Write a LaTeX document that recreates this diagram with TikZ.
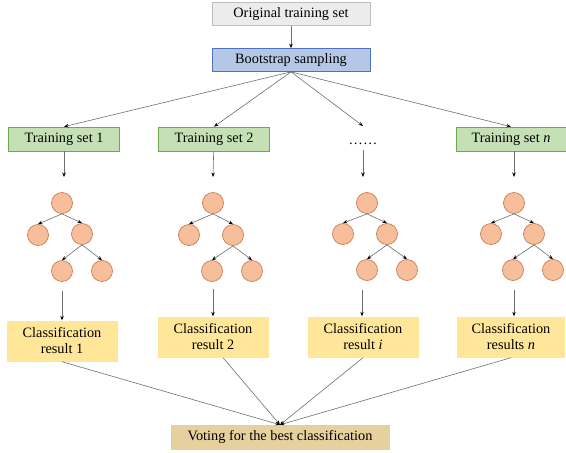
\documentclass[tikz,border=0pt]{standalone}
\usepackage{fontspec}
\setmainfont{Liberation Serif}
\usetikzlibrary{arrows.meta}

\definecolor{origfill}{RGB}{236,236,236}
\definecolor{origline}{RGB}{190,190,190}
\definecolor{bootfill}{RGB}{180,199,231}
\definecolor{bootline}{RGB}{79,114,190}
\definecolor{trainfill}{RGB}{197,224,180}
\definecolor{trainline}{RGB}{112,168,78}
\definecolor{treefill}{RGB}{246,190,155}
\definecolor{treeline}{RGB}{205,125,80}
\definecolor{resfill}{RGB}{255,230,153}
\definecolor{votefill}{RGB}{230,208,158}
\definecolor{linegray}{RGB}{110,110,110}

\begin{document}
\begin{tikzpicture}[x=1pt,y=-1pt,font=\fontsize{14.3}{16}\selectfont,
    >={Stealth[length=4.5pt,width=3.5pt,black]}]

      \useasboundingbox (0,0) rectangle (566,453);

      \begin{scope}[every node/.style={draw,minimum height=23pt,inner sep=0pt,line width=0.7pt}]
        \node[fill=origfill,draw=origline,minimum width=158pt] (orig) at (291,14) {Original training set};
        \node[fill=bootfill,draw=bootline,minimum width=158pt] (boot) at (291,60) {Bootstrap sampling};
        \node[fill=trainfill,draw=trainline,minimum width=111pt,minimum height=24pt] (t1) at (64,139) {Training set 1};
        \node[fill=trainfill,draw=trainline,minimum width=111pt,minimum height=24pt] (t2) at (214,139) {Training set 2};
        \node[fill=trainfill,draw=trainline,minimum width=110pt,minimum height=24pt] (tn) at (511,139) {Training set \textit{n}};
        \node[draw=none,minimum height=0pt,anchor=base] (tdots) at (363,144) {……};
      \end{scope}

      \begin{scope}[every node/.style={circle,draw=treeline,fill=treefill,line width=0.7pt,minimum size=21pt,inner sep=0pt}]
        \node (r1) at (62,203) {};
        \node (a1) at (38,235) {};
        \node (b1) at (82,234) {};
        \node (c1) at (62,271) {};
        \node (d1) at (102,271) {};
        \node (r2) at (213,203) {};
        \node (a2) at (189,235) {};
        \node (b2) at (233,235) {};
        \node (c2) at (212,271) {};
        \node (d2) at (252,271) {};
        \node (r3) at (367,203) {};
        \node (a3) at (343,234) {};
        \node (b3) at (387,234) {};
        \node (c3) at (367,270) {};
        \node (d3) at (407,270) {};
        \node (r4) at (514,203) {};
        \node (a4) at (491,234) {};
        \node (b4) at (534,234) {};
        \node (c4) at (513,270) {};
        \node (d4) at (553,270) {};
      \end{scope}

      \begin{scope}[every node/.style={fill=resfill,minimum width=111pt,minimum height=41pt,inner sep=0pt,align=center}]
        \node (res1) at (62,341) {Classification\\result 1};
        \node (res2) at (213,337) {Classification\\result 2};
        \node (resi) at (363,337) {Classification\\result \textit{i}};
        \node[minimum width=108pt] (resn) at (511,337) {Classification\\results \textit{n}};
      \end{scope}
      \node[fill=votefill,minimum width=219pt,minimum height=25pt,inner sep=0pt] (vote) at (280,437.5) {Voting for the best classification};

      % free ends
      \coordinate (k1) at (64,177);
      \coordinate (k2) at (213,177);
      \coordinate (k3) at (363,177);
      \coordinate (k4) at (514,177);
      \coordinate (s1) at (62,291);
      \coordinate (s2) at (213,289);
      \coordinate (s3) at (362,290);
      \coordinate (s4) at (514,290);

      \begin{scope}[every edge/.style={draw=linegray,line width=0.6pt,->}]
        \path (orig) edge (boot);
        \path (boot.south) edge (t1.north);
        \path (boot.south) edge (t2.north);
        \path (boot.south) edge (363,126);
        \path (boot.south) edge (tn.north);
        \path (t1) edge (k1);
        \path (t2) edge (k2);
        \path (363,150) edge (k3);
        \path (tn.south -| k4) edge (k4);
        \path (r1.south) edge (a1.north);
        \path (r1.south) edge (b1.north);
        \path (b1.south) edge (c1.north);
        \path (b1.south) edge (d1.north);
        \path (r2.south) edge (a2.north);
        \path (r2.south) edge (b2.north);
        \path (b2.south) edge (c2.north);
        \path (b2.south) edge (d2.north);
        \path (r3.south) edge (a3.north);
        \path (r3.south) edge (b3.north);
        \path (b3.south) edge (c3.north);
        \path (b3.south) edge (d3.north);
        \path (r4.south) edge (a4.north);
        \path (r4.south) edge (b4.north);
        \path (b4.south) edge (c4.north);
        \path (b4.south) edge (d4.north);
        \path (s1) edge (s1 |- res1.north);
        \path (s2) edge (s2 |- res2.north);
        \path (s3) edge (s3 |- resi.north);
        \path (s4) edge (s4 |- resn.north);
        \path (res1.south) edge (vote.north);
        \path ([xshift=10pt]res2.south) edge (vote.north);
        \path (resi.south) edge (vote.north);
        \path (resn.south) edge (vote.north);
      \end{scope}

    \end{tikzpicture}
\end{document}
